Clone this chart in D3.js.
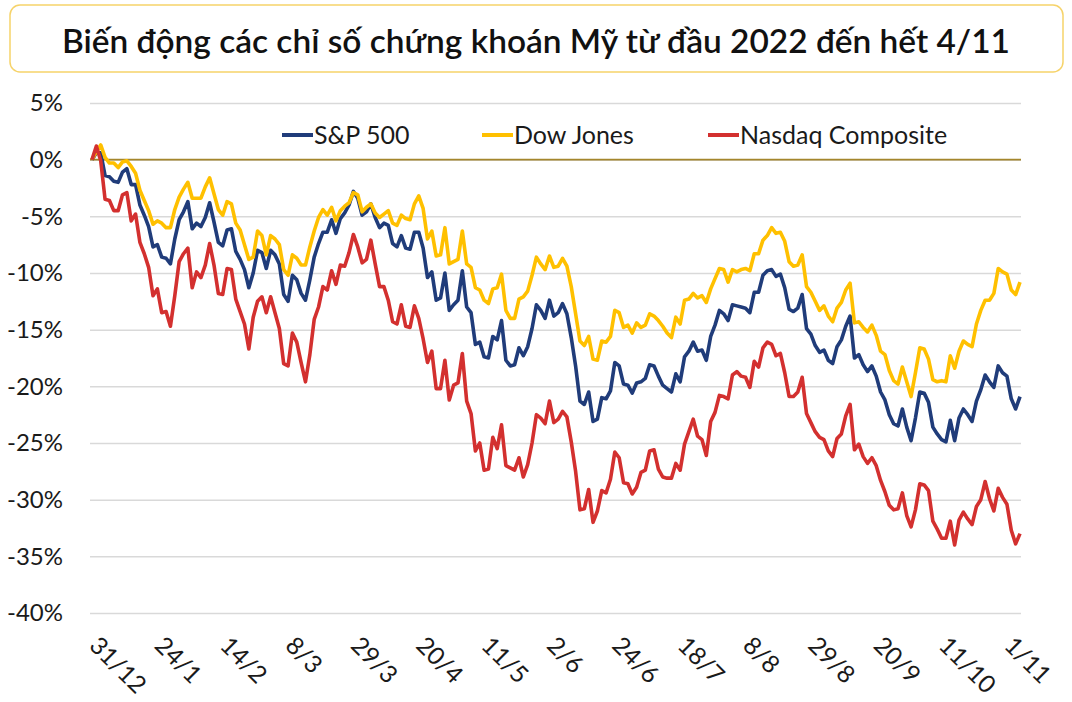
<!DOCTYPE html>
<html><head><meta charset="utf-8">
<script src="https://cdn.jsdelivr.net/npm/d3@7"></script>
<style>body{margin:0;background:#fff}svg{display:block}</style>
</head><body>
<svg id="c" width="1072" height="702"></svg>
<script>
const titleText = "Biến động các chỉ số chứng khoán Mỹ từ đầu 2022 đến hết 4/11";
const tickLabels = ["31/12","24/1","14/2","8/3","29/3","20/4","11/5","2/6","24/6","18/7","8/8","29/8","20/9","11/10","1/11"];
const tickIndex = [0,15,30,45,60,75,90,105,120,135,150,165,180,195,210];
const yTicks = [5,0,-5,-10,-15,-20,-25,-30,-35,-40];
const seriesNames = ["S&P 500","Dow Jones","Nasdaq Composite"];

// % change vs 31/12/2021, one value per trading day (31/12 .. 4/11)
const spx = [0,
 0.6,0.6,-1.4,-1.5,-1.9,-2.0,-1.1,-0.8,-2.2,-2.2,-4.0,-4.9,-5.9,-7.7,-7.5,-8.6,-8.7,-9.2,-7.0,-5.3,
 -4.6,-3.7,-6.1,-5.6,-5.9,-5.1,-3.8,-5.5,-7.3,-7.6,-6.2,-6.1,-8.1,-8.8,-9.7,-11.3,-10.0,-8.0,-8.2,
 -9.6,-8.0,-8.4,-9.2,-11.9,-12.5,-10.2,-10.6,-11.8,-12.4,-10.6,-8.6,-7.4,-6.4,-6.4,-5.3,-6.5,-5.2,-4.7,-4.0,-2.8,-3.4,-4.9,
 -4.6,-3.9,-5.1,-6.0,-5.6,-5.8,-7.4,-7.7,-6.7,-7.8,-7.9,-6.4,-6.4,-7.8,-10.4,-9.9,-12.4,-12.2,-10.0,-13.3,
 -12.8,-12.4,-9.8,-13.0,-13.5,-16.3,-16.1,-17.4,-17.5,-15.6,-15.9,-14.2,-17.7,-18.2,-18.1,-16.6,-17.3,-16.5,-14.9,-12.8,-13.3,
 -14.0,-12.4,-13.8,-13.5,-12.7,-13.6,-15.7,-18.2,-21.3,-21.6,-20.5,-23.1,-22.9,-21.0,-21.1,-20.4,-17.9,-18.2,-19.8,-19.9,-20.6,
 -19.7,-19.6,-19.3,-18.1,-18.2,-19.1,-19.9,-20.2,-20.5,-18.9,-19.6,-17.4,-16.9,-16.1,-16.9,-16.8,-17.7,-15.6,-14.6,-13.3,
 -13.6,-14.2,-12.8,-12.9,-13.0,-13.1,-13.5,-11.7,-11.7,-10.2,-9.8,-9.7,-10.3,-10.1,-11.3,-13.2,-13.4,-13.1,-11.9,-14.9,-15.4,-16.4,-17.0,
 -16.8,-17.7,-18.0,-16.5,-15.9,-14.7,-13.8,-17.5,-17.2,-18.1,-18.7,-18.2,-19.1,-20.5,-21.2,-22.5,-23.3,-23.5,-22.0,-23.6,-24.8,
 -22.8,-20.5,-20.6,-21.4,-23.6,-24.2,-24.7,-24.9,-23.0,-24.8,-22.8,-22.0,-22.5,-23.1,-21.3,-20.3,-19.0,-19.6,-20.1,-18.2,-18.8,
 -19.1,-21.1,-22.0,-20.9];
const dji = [0,
 0.7,1.3,0.2,-0.3,-0.3,-0.7,-0.2,-0.1,-0.6,-1.2,-2.7,-3.6,-4.5,-5.7,-5.4,-5.6,-6.0,-6.0,-4.4,-3.3,
 -2.6,-2.0,-3.4,-3.4,-3.4,-2.4,-1.6,-3.0,-4.4,-4.9,-3.7,-3.9,-5.6,-6.2,-7.5,-8.8,-8.6,-6.3,-6.7,
 -8.4,-6.7,-7.0,-7.5,-9.7,-10.2,-8.4,-8.7,-9.3,-9.3,-7.7,-6.3,-5.1,-4.4,-4.9,-4.2,-5.4,-4.5,-4.1,-3.8,-2.9,-3.1,-4.6,
 -4.2,-3.9,-4.7,-5.1,-4.8,-4.5,-5.6,-5.8,-4.9,-5.2,-5.3,-3.9,-3.2,-4.3,-7.0,-6.3,-8.5,-8.4,-6.0,-9.2,
 -9.0,-8.8,-6.3,-9.2,-9.5,-11.3,-11.5,-12.4,-12.7,-11.4,-11.3,-10.1,-13.3,-14.0,-14.0,-12.3,-12.1,-11.6,-10.2,-8.6,-9.2,
 -9.7,-8.5,-9.5,-9.4,-8.7,-9.4,-11.2,-13.6,-16.0,-16.4,-15.6,-17.6,-17.7,-16.0,-16.1,-15.6,-13.3,-13.5,-14.8,-14.6,-15.3,
 -14.4,-14.8,-14.6,-13.6,-13.8,-14.2,-14.7,-15.3,-15.7,-13.9,-14.5,-12.4,-12.3,-11.8,-12.2,-12.0,-12.6,-11.4,-10.5,-9.6,
 -9.7,-10.8,-9.7,-9.9,-9.7,-9.6,-9.8,-8.3,-8.3,-7.1,-6.7,-6.0,-6.5,-6.4,-7.2,-9.0,-9.4,-9.3,-8.4,-11.2,-11.7,-12.5,-13.3,
 -12.9,-13.8,-14.3,-13.1,-12.6,-11.5,-10.9,-14.4,-14.3,-14.8,-15.2,-14.6,-15.5,-16.9,-17.2,-18.6,-19.5,-19.8,-18.3,-19.6,-20.9,
 -18.8,-16.6,-16.7,-17.6,-19.4,-19.6,-19.5,-19.6,-17.3,-18.4,-16.9,-16.0,-16.3,-16.5,-14.5,-13.3,-12.4,-12.4,-11.8,-9.6,-9.9,
 -10.1,-11.5,-11.9,-10.8];
const ixic = [0,
 1.2,-0.1,-3.5,-3.6,-4.5,-4.5,-3.1,-2.9,-5.4,-4.8,-7.3,-8.3,-9.5,-12.0,-11.4,-13.5,-13.4,-14.7,-12.0,-9.0,
 -8.3,-7.8,-11.3,-9.9,-10.4,-9.3,-7.4,-9.3,-11.8,-11.9,-9.6,-9.7,-12.3,-13.4,-14.5,-16.7,-13.9,-12.5,-12.1,
 -13.5,-12.1,-13.5,-14.9,-18.0,-18.2,-15.3,-16.1,-17.9,-19.6,-17.2,-14.1,-13.0,-11.2,-11.5,-9.8,-11.0,-9.3,-9.4,-8.2,-6.6,-7.7,-9.1,
 -8.8,-7.1,-9.2,-11.2,-11.2,-12.4,-14.3,-14.5,-12.8,-14.7,-14.8,-12.9,-14.0,-15.8,-17.9,-16.9,-20.2,-20.2,-17.7,-21.2,
 -19.9,-19.7,-17.1,-21.3,-22.4,-25.7,-25.0,-27.4,-27.3,-24.5,-25.5,-23.4,-27.0,-27.2,-27.4,-26.3,-28.0,-26.9,-25.0,-22.5,-22.8,
 -23.3,-21.3,-23.2,-22.9,-22.2,-22.7,-24.9,-27.5,-30.9,-30.8,-29.1,-32.0,-31.0,-29.2,-29.4,-28.2,-25.8,-26.3,-28.5,-28.6,-29.5,
 -28.9,-27.6,-27.4,-25.7,-25.6,-27.3,-28.0,-28.1,-28.1,-26.8,-27.4,-25.1,-24.0,-22.9,-24.4,-24.7,-26.1,-23.1,-22.3,-20.8,
 -20.9,-21.1,-19.0,-18.7,-19.1,-19.2,-20.1,-17.8,-18.3,-16.6,-16.1,-16.3,-17.3,-17.1,-18.8,-20.9,-20.9,-20.5,-19.2,-22.4,-23.2,-24.0,-24.5,
 -24.7,-25.7,-26.2,-24.6,-24.2,-22.6,-21.6,-25.6,-25.1,-26.2,-26.8,-26.3,-27.0,-28.3,-29.3,-30.5,-30.9,-30.8,-29.4,-31.4,-32.4,
 -30.9,-28.6,-28.7,-29.2,-31.9,-32.6,-33.4,-33.4,-31.9,-34.0,-31.8,-31.1,-31.7,-32.2,-30.6,-30.0,-28.4,-29.9,-31.0,-29.0,-29.8,
 -30.4,-32.7,-33.9,-33.0];

const colors = ["#203c7a","#ffc000","#d3302f"];
const series = [spx, dji, ixic];

const svg = d3.select("#c");
const font = "Lato, 'Open Sans', sans-serif";

// title box
svg.append("rect").attr("x",10).attr("y",5).attr("width",1053).attr("height",67)
  .attr("rx",10).attr("fill","#fff").attr("stroke","#f6d36a").attr("stroke-width",1.5);
svg.append("text").attr("x",62).attr("y",53)
  .attr("font-family",font).attr("font-size",33).attr("font-weight",600).attr("fill","#111")
  .attr("textLength",948).attr("lengthAdjust","spacingAndGlyphs")
  .text(titleText);

const x = d3.scaleLinear().domain([0, spx.length-1]).range([92, 1020]);
const y = d3.scaleLinear().domain([-40, 5]).range([613, 103]);

// gridlines + y labels
const yAxis = d3.axisLeft(y).tickValues(yTicks).tickSize(-931).tickFormat(d => d + "%");
const gy = svg.append("g").attr("transform","translate(90,0)").call(yAxis);
gy.select(".domain").remove();
gy.selectAll(".tick line").attr("stroke","#d9d9d9").attr("stroke-width",1.5);
gy.selectAll(".tick text").attr("x",-27).attr("font-family",font).attr("font-size",24).attr("fill","#1a1a1a");

// zero line
svg.append("line").attr("x1",90).attr("x2",1021).attr("y1",y(0)).attr("y2",y(0))
  .attr("stroke","#a4862c").attr("stroke-width",1.6);

// x labels
svg.append("g").selectAll("text").data(tickIndex).join("text")
  .attr("transform",(d)=>`translate(${x(d)-4},647) rotate(45)`)
  .attr("font-family",font).attr("font-size",24.5).attr("fill","#1a1a1a")
  .text((d,i)=>tickLabels[i]);

// lines
const line = d3.line().x((d,i)=>x(i)).y(d=>y(d));
series.forEach((s,k)=>{
  svg.append("path").datum(s).attr("d",line).attr("fill","none")
    .attr("stroke",colors[k]).attr("stroke-width",3.6).attr("stroke-linejoin","round");
});

// legend
const legX = [282, 482, 708];
seriesNames.forEach((n,k)=>{
  svg.append("line").attr("x1",legX[k]).attr("x2",legX[k]+31).attr("y1",135).attr("y2",135)
    .attr("stroke",colors[k]).attr("stroke-width",4);
  svg.append("text").attr("x",legX[k]+32).attr("y",144).attr("font-family",font)
    .attr("font-size",25).attr("fill","#1a1a1a").text(n);
});
</script>
</body></html>
